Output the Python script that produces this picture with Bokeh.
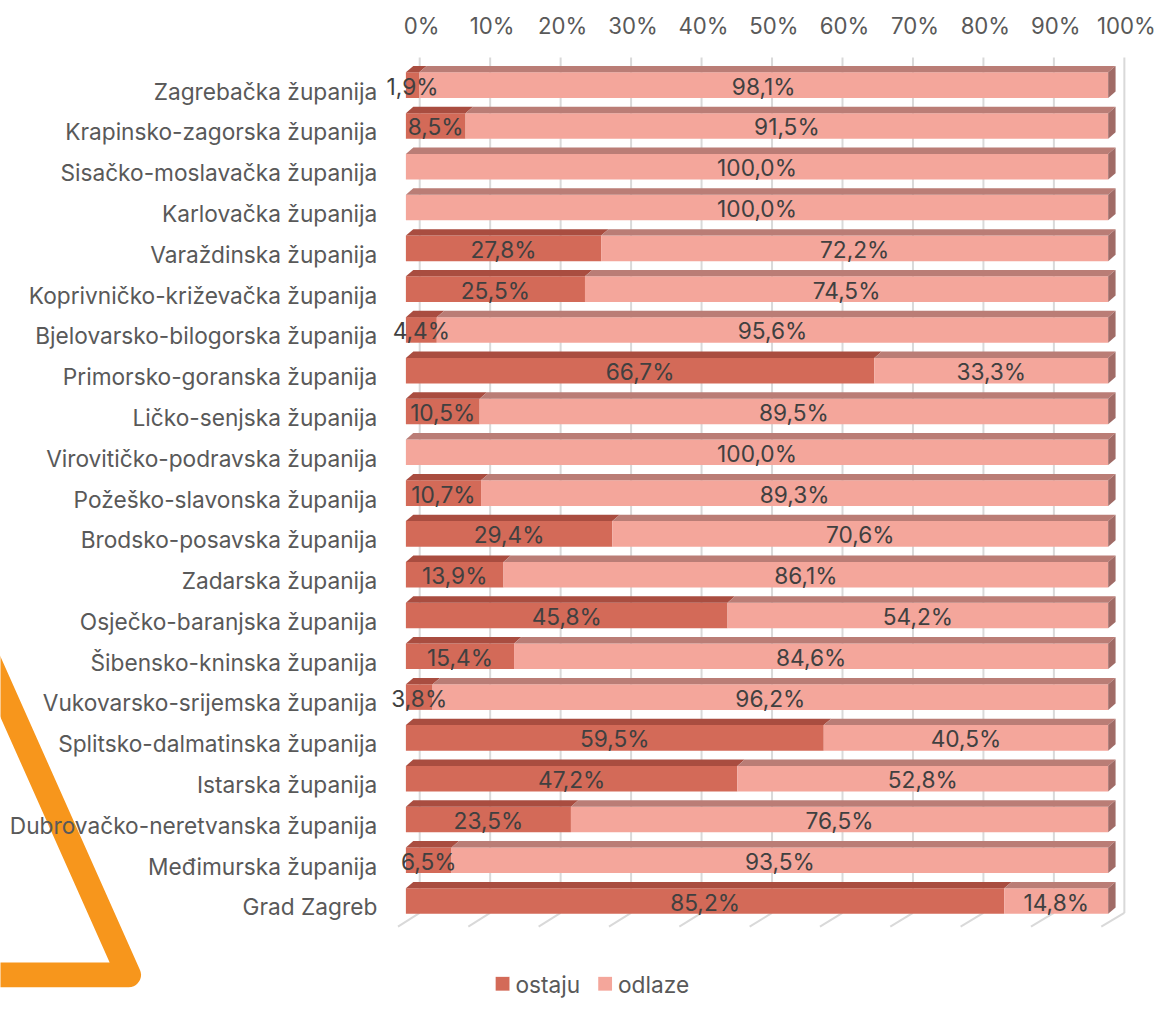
from bokeh.plotting import figure
from bokeh.models import Range1d, ColumnDataSource
from bokeh.core.properties import value
from bokeh.embed import file_html
from bokeh.resources import INLINE

categories = [
    "Zagrebačka županija", "Krapinsko-zagorska županija", "Sisačko-moslavačka županija",
    "Karlovačka županija", "Varaždinska županija", "Koprivničko-križevačka županija",
    "Bjelovarsko-bilogorska županija", "Primorsko-goranska županija", "Ličko-senjska županija",
    "Virovitičko-podravska županija", "Požeško-slavonska županija", "Brodsko-posavska županija",
    "Zadarska županija", "Osječko-baranjska županija", "Šibensko-kninska županija",
    "Vukovarsko-srijemska županija", "Splitsko-dalmatinska županija", "Istarska županija",
    "Dubrovačko-neretvanska županija", "Međimurska županija", "Grad Zagreb",
]
ostaju = [1.9, 8.5, 0.0, 0.0, 27.8, 25.5, 4.4, 66.7, 10.5, 0.0, 10.7, 29.4, 13.9, 45.8,
          15.4, 3.8, 59.5, 47.2, 23.5, 6.5, 85.2]
odlaze = [98.1, 91.5, 100.0, 100.0, 72.2, 74.5, 95.6, 33.3, 89.5, 100.0, 89.3, 70.6, 86.1,
          54.2, 84.6, 96.2, 40.5, 52.8, 76.5, 93.5, 14.8]
series_names = ["ostaju", "odlaze"]
ticks = [0, 10, 20, 30, 40, 50, 60, 70, 80, 90, 100]
tick_labels = ["0%", "10%", "20%", "30%", "40%", "50%", "60%", "70%", "80%", "90%", "100%"]

# ---- layout helpers (reference-pixel based, layout only) ----
W, H = 1157, 999
REF_W, REF_H = 1173, 1015
K = W / REF_W                # screen size scale
FX0, SX = 411.0, 7.12        # px of 0% on front plane, px per percent
FY0, SY = 86.0, 41.45        # px of first row centre, px per row
def dxp(px): return (px - FX0) / SX
def dyp(py): return (py - FY0) / SY
def fs(px): return f"{px * K:.1f}px"

HALF = 13.0 / SY
DX, DY = 7.5 / SX, 6.5 / SY

front_col = ["#D36A58", "#F4A69B"]
top_col = ["#A94D40", "#BA7D76"]
side_col = ["#8E3F33", "#A06B66"]
grid_col = "#D9D9D9"
FONT = value("Inter")

p = figure(width=W, height=H, x_range=Range1d(dxp(0), dxp(REF_W)),
           y_range=Range1d(dyp(REF_H), dyp(0)), min_border=0,
           toolbar_location=None, output_backend="svg",
           x_axis_location=None, y_axis_location=None)
p.grid.visible = False
p.outline_line_color = None
p.background_fill_color = "white"

# ---- decorative orange triangle (behind everything) ----
tri_x = [dxp(-30), dxp(130), dxp(-60)]
tri_y = [dyp(630), dyp(990), dyp(990)]
p.line(tri_x, tri_y, line_color="#F7961C", line_width=25 * K, line_join="round")

# ---- back wall grid lines, floor lines ----
BACK_X0, BACK_S = dxp(425), 7.144 / SX
FLOOR_X0, FLOOR_S = dxp(403), 7.13 / SX
gx = [[BACK_X0 + t * BACK_S] * 2 for t in ticks]
gy = [[dyp(58), dyp(927)] for t in ticks]
p.multi_line(gx, gy, line_color=grid_col, line_width=2)
fx = [[FLOOR_X0 + t * FLOOR_S, BACK_X0 + t * BACK_S] for t in ticks]
fy = [[dyp(941), dyp(927)] for t in ticks]
p.multi_line(fx, fy, line_color=grid_col, line_width=2)

# ---- tick labels on top ----
p.text(x=[BACK_X0 + t * BACK_S + 2 / SX for t in ticks], y=[dyp(25)] * len(ticks),
       text=tick_labels, text_font=FONT, text_font_size=fs(22.5), text_color="#595959",
       text_align="center", text_baseline="middle")

# ---- 3D bars ----
n = len(categories)
rows = list(range(n))
lefts = [[0.0] * n, ostaju[:]]
rights = [ostaju[:], [a + b for a, b in zip(ostaju, odlaze)]]
vals = [ostaju, odlaze]

for s in range(2):
    idx = [i for i in rows if vals[s][i] > 0]
    src = ColumnDataSource(dict(
        y=idx, left=[lefts[s][i] for i in idx], right=[rights[s][i] for i in idx]))
    p.hbar(y="y", left="left", right="right", height=2 * HALF, source=src,
           fill_color=front_col[s], line_color=None)
    txs, tys = [], []
    for i in idx:
        a, b = lefts[s][i], rights[s][i]
        t = i - HALF
        txs.append([a, b, b + DX, a + DX])
        tys.append([t, t, t - DY, t - DY])
    p.patches(txs, tys, fill_color=top_col[s], line_color=None)

# right side faces
sxs, sys_ = [], []
for i in rows:
    b = rights[1][i]
    t, btm = i - HALF, i + HALF
    sxs.append([b, b + DX, b + DX, b])
    sys_.append([t, t - DY, btm - DY, btm])
p.patches(sxs, sys_, fill_color=side_col[1], line_color=None)

# ---- data labels ----
lx, ly, lt = [], [], []
for s in range(2):
    for i in rows:
        v = vals[s][i]
        if v > 0:
            lx.append((lefts[s][i] + rights[s][i]) / 2)
            ly.append(i + 1 / SY)
            lt.append(f"{v:.1f}".replace(".", ",") + "%")
p.text(x=lx, y=ly, text=lt, text_font=FONT, text_font_size=fs(23), text_color="#404040",
       text_align="center", text_baseline="middle")

# ---- category labels ----
p.text(x=[dxp(382)] * n, y=[i + 6 / SY for i in rows], text=categories, text_font=FONT,
       text_font_size=fs(23), text_color="#595959", text_align="right",
       text_baseline="middle")

# ---- legend ----
leg_sq_x = [dxp(509), dxp(613)]
leg_y = dyp(999)
p.scatter(x=leg_sq_x, y=[leg_y] * 2, marker="square", size=14 * K, fill_color=front_col,
          line_color=None)
p.text(x=[v + 13 / SX for v in leg_sq_x], y=[dyp(999.5)] * 2, text=series_names,
       text_font=FONT, text_font_size=fs(23), text_color="#595959", text_align="left",
       text_baseline="middle")

open("out.html", "w").write(file_html(p, INLINE))
